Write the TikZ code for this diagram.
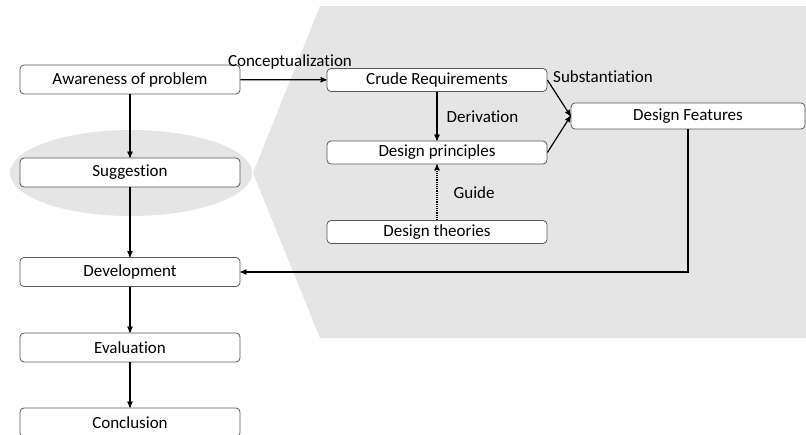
\documentclass[tikz,border=0pt]{standalone}
\usepackage{fontspec}
\setmainfont[Ligatures={NoCommon}]{Carlito}
\usepackage{tikz}
\usetikzlibrary{arrows}
\usetikzlibrary{positioning}
\tikzset{box/.style={draw=black!65, line width=0.8pt, fill=white,
      rounded corners=4pt, minimum width=220pt, minimum height=29pt,
      inner sep=0pt, font=\fontsize{17}{20}\selectfont},
      midbox/.style={box, minimum height=23pt},
      lbl/.style={font=\fontsize{17}{20}\selectfont, inner sep=0pt},
      arr/.style={->, >=stealth', line width=1.2pt},
      shade/.style={fill=gray!20}}

\begin{document}
\begin{tikzpicture}[x=1pt,y=-1pt]
          \useasboundingbox (0,0) rectangle (806,434);
          % background areas
          \fill[shade] (320,6) -- (806,6) -- (806,338) -- (320,338) -- (253,173) -- cycle;
          \fill[shade] (131,173) ellipse (121 and 43);

          \node[box] (aw) at (130,79.5) {Awareness of problem};
          \node[box] (sug) at (130,172.5) {Suggestion};
          \node[box] (dev) at (130,272) {Development};
          \node[box] (ev) at (130,347.5) {Evaluation};
          \node[box] (con) at (130,422.5) {Conclusion};

          \node[midbox] (cr) at (437,80) {Crude Requirements};
          \node[midbox] (dp) at (437,152.5) {Design principles};
          \node[midbox] (dt) at (437,232) {Design theories};
          \node[box, minimum width=234pt, minimum height=26pt] (df) at (688,116) {Design Features};

          \draw[arr] (aw) -- (cr);
          \draw[arr] (aw) -- (sug);
          \draw[arr] (sug) -- (dev);
          \draw[arr] (dev) -- (ev);
          \draw[arr] (ev) -- (con);

          \node[lbl] (conc) at (290,62) {Conceptualization};
          \draw[arr] (cr) -- (dp) node[lbl, midway, right=9pt] {Derivation};
          \draw[arr, densely dotted] (dt) -- (dp) node[lbl, midway, right=16pt] {Guide};
          \draw[arr] (cr.east) -- (df.west);
          \draw[arr] (dp.east) -- (df.west);
          \node[lbl, anchor=west] (sub) at (553,77) {Substantiation};
          \draw[arr] (df.south) |- (dev.east);
       \end{tikzpicture}
\end{document}
